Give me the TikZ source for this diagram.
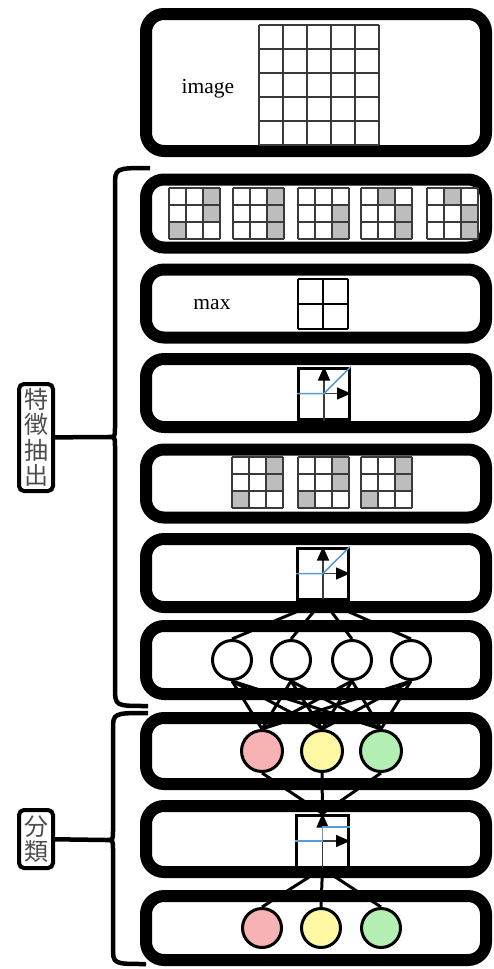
\documentclass[tikz,border=0pt]{standalone}
\usepackage{fontspec}
\setmainfont{Liberation Serif}
\newfontfamily\cjk{Noto Sans CJK JP}
\usetikzlibrary{arrows.meta}
\definecolor{reluBlue}{HTML}{5B9BD5}
\definecolor{cellGray}{HTML}{BDBDBD}
\definecolor{gridGray}{HTML}{3A3A3A}
\definecolor{outRed}{HTML}{F7B3B3}
\definecolor{outYellow}{HTML}{FFF8A3}
\definecolor{outGreen}{HTML}{B3EFB3}
% 3x3 kernel: left, top, shaded cells col/row
\newcommand{\kernel}[3]{%
  \foreach \c/\r in {#3} \fill[cellGray] (#1+\c*17,#2+\r*17) rectangle ++(17,17);
  \foreach \i in {0,...,3} {
    \draw[gridline] (#1+\i*17,#2) -- ++(0,51);
    \draw[gridline] (#1,#2+\i*17) -- ++(51,0);
  }%
}
% axes inside an activation box
\newcommand{\axes}[1]{%
  \draw[gridGray, line width=1.5pt, -{Triangle[length=14pt 0,width=12pt 0,color=black]}] (#1.south) -- (#1.north);
  \draw[gridGray, line width=1.5pt, -{Triangle[length=14pt 0,width=12pt 0,color=black]}] (#1.west) -- (#1.east);
}

\begin{document}
\begin{tikzpicture}[x=1pt, y=-1pt,
    layer/.style={draw, line width=12pt, rounded corners=18pt, minimum width=340pt, minimum height=68pt},
    gridline/.style={gridGray, line width=1.6pt},
    actbox/.style={draw, line width=3pt, minimum size=51pt, inner sep=0pt},
    reluline/.style={reluBlue, line width=1.5pt},
    neuron/.style={circle, draw, line width=3pt, inner sep=0pt, minimum size=39pt},
    wire/.style={line width=3pt},
    bracket/.style={line width=4.5pt},
    tag/.style={draw, line width=4pt, rounded corners=5pt, minimum width=34pt, inner sep=0pt, align=center,
                text=black!70, font=\cjk\fontsize{24}{25.5}\selectfont},
    lbl/.style={font=\fontsize{21.5}{24}\selectfont, inner sep=0pt}]
  \useasboundingbox (0,0) rectangle (494,969);

  % layers
  \node[layer, minimum height=137pt] (Img) at (316,82.5) {};
  \node[layer] (Conv1) at (316,213.5) {};
  \node[layer] (Pool) at (316,303.5) {};
  \node[layer] (Relu1) at (316,393) {};
  \node[layer] (Conv2) at (316,483.5) {};
  \node[layer] (Relu2) at (316,573) {};
  \node[layer] (Hidden) at (316,660) {};
  \node[layer, minimum height=66pt] (Full) at (316,751) {};
  \node[layer, minimum height=66pt] (Step) at (316,839) {};
  \node[layer, minimum height=64pt] (Out) at (316,928) {};

  % input image
  \node[lbl] (imgtxt) at (208,89) {image};
  \foreach \i in {0,...,5} {
    \draw[gridline, line width=2pt] (259+\i*24,25) -- (259+\i*24,145);
    \draw[gridline, line width=2pt] (259,25+\i*24) -- (379,25+\i*24);
  }

  % first filters
  \kernel{169}{188}{2/0,2/1,0/2}
  \kernel{233}{188}{2/0,2/1,2/2}
  \kernel{298}{188}{2/1,2/2}
  \kernel{361}{188}{1/0,2/1,2/2}
  \kernel{427}{188}{1/0,2/1,2/2}

  % pooling
  \node[lbl] (maxtxt) at (212,305) {max};
  \foreach \i in {0,1,2} {
    \draw[black, line width=2pt] (298+\i*25,279) -- (298+\i*25,329);
    \draw[black, line width=2pt] (298,279+\i*25) -- (348,279+\i*25);
  }

  % activations
  \node[actbox] (A1) at (324,393.5) {};
  \axes{A1}
  \draw[reluline] (A1.west) -- (A1.center) -- (A1.north east);

  \kernel{232}{457}{2/0,2/1,0/2}
  \kernel{298}{457}{2/0,2/1,0/2}
  \kernel{361}{457}{2/0,2/1,0/2}

  \node[actbox] (A2) at (323,573.5) {};
  \axes{A2}
  \draw[reluline] (A2.west) -- (A2.center) -- (A2.north east);

  % hidden units
  \node[neuron] (C1) at (232,660) {};
  \node[neuron] (C2) at (291,660) {};
  \node[neuron] (C3) at (352,660) {};
  \node[neuron] (C4) at (411,660) {};

  \node[neuron, fill=outRed, minimum size=41pt] (D1) at (262,751) {};
  \node[neuron, fill=outYellow, minimum size=41pt] (D2) at (322,751) {};
  \node[neuron, fill=outGreen, minimum size=41pt] (D3) at (381,751) {};

  \node[actbox, minimum size=52pt] (A3) at (322.5,841) {};
  \axes{A3}
  \draw[reluline] (A3.west) -- (A3.center) -- ([yshift=14pt]A3.center) -- ([yshift=14pt]A3.east);

  \node[neuron, fill=outRed] (E1) at (262,928) {};
  \node[neuron, fill=outYellow] (E2) at (321,928) {};
  \node[neuron, fill=outGreen] (E3) at (381,928) {};

  % connections
  \foreach \c in {C1,C2,C3,C4} {
    \draw[wire] (A2.south) -- (\c.north);
    \foreach \d in {D1,D2,D3}
      \draw[wire] (\c.south) -- (\d.north);
  }
  \foreach \d in {D1,D2,D3}
    \draw[wire] (\d.south) -- (A3.north);
  \foreach \e in {E1,E2,E3}
    \draw[wire] (A3.south) -- (\e.north);

  % braces
  \coordinate (tipA) at (108,437);
  \coordinate (tipB) at (106,840);
  \draw[bracket] (150,168) .. controls (115,168) .. (115,186) -- (115,428)
    .. controls (115,437) .. (tipA) .. controls (115,437) .. (115,446) -- (115,688)
    .. controls (115,706) .. (148,706);
  \draw[bracket] (148,713) .. controls (113,713) .. (113,730) -- (113,831)
    .. controls (113,840) .. (tipB) .. controls (113,840) .. (113,849) -- (113,947)
    .. controls (113,964) .. (146,964);

  \node[tag, minimum height=107pt] (Feat) at (36,437.5) {特\\徴\\抽\\出};
  \node[tag, minimum height=58pt] (Cls) at (36,839) {分\\類};
  \draw[bracket] (Feat) -- (tipA);
  \draw[bracket] (Cls) -- (tipB);
\end{tikzpicture}
\end{document}
